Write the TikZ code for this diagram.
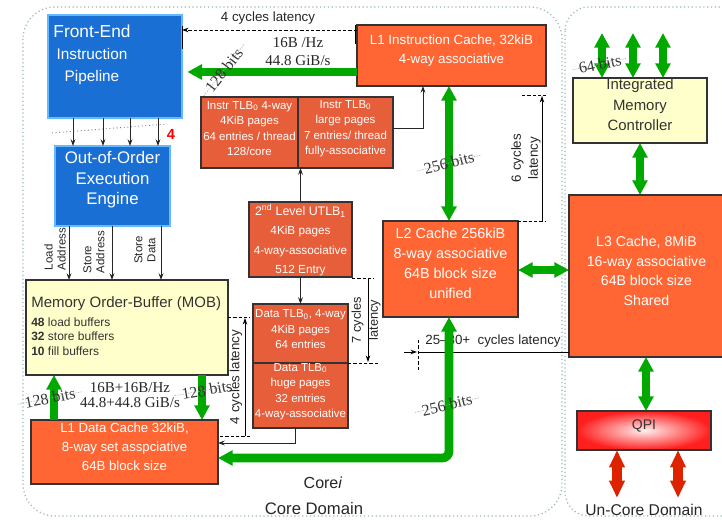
\documentclass[tikz,border=0pt]{standalone}
\usepackage{fontspec}
\setmainfont{Liberation Sans}
\newfontfamily\serifx{Liberation Serif}
\usetikzlibrary{arrows.meta,fit,calc}
\newcommand\fsz[2]{\fontsize{#1}{#2}\selectfont}
\definecolor{feblue}{HTML}{1A6FD4}
\definecolor{feborder}{HTML}{66B8FF}
\definecolor{cacheor}{HTML}{FF6633}
\definecolor{tlbor}{HTML}{E65E3A}
\definecolor{mobyel}{HTML}{FFFFCC}
\definecolor{grn}{HTML}{00A800}
\definecolor{redarr}{HTML}{DD2200}
\definecolor{domline}{HTML}{9BB8B8}
\definecolor{darkbd}{HTML}{333333}
\begin{document}
\begin{tikzpicture}[x=0.75pt,y=-0.75pt,
  pbox/.style={inner sep=0pt, outer sep=0pt, align=center, text=white},
  cache/.style={pbox, fill=cacheor, draw=darkbd, line width=1.1pt},
  tlb/.style={pbox, fill=tlbor, draw=darkbd, line width=1.1pt, font=\fsz{8.6}{11.6}},
  bluebox/.style={pbox, fill=feblue, draw=feborder, line width=0.8pt},
  yelbox/.style={pbox, fill=mobyel, draw=darkbd, line width=1.1pt, text=black!80},
  arr/.style={-{Stealth[length=5pt,width=3.6pt]}, line width=0.7pt, black!85},
  garr/.style={draw=grn, line width=6.5pt, {Triangle[width=11pt,length=11pt]}-{Triangle[width=11pt,length=11pt]}},
  garrone/.style={draw=grn, line width=6.5pt, -{Triangle[width=11pt,length=11pt]}},
  rarr/.style={draw=redarr, line width=7pt, {Triangle[width=11pt,length=13pt]}-{Triangle[width=11pt,length=13pt]}},
  dimline/.style={line width=0.6pt, black},
  dimdash/.style={line width=0.6pt, black, dash pattern=on 2.5pt off 1.5pt},
  dimarr/.style={line width=0.6pt, black, -{Stealth[length=5pt,width=3.4pt]}},
  bits/.style={font=\serifx\fsz{12}{13}, text=black!80, inner sep=0.5pt},
  bitsline/.style={gray!70, line width=0.4pt, dash pattern=on 1pt off 1pt},
  lbl/.style={text=black!85, inner sep=0pt},
]
\useasboundingbox (0,0) rectangle (722,520);
\fill[white] (0,0) rectangle (722,520);
\clip (0,0) rectangle (722,520);

% domains
\draw[domline, dotted, line width=0.9pt, rounded corners=24pt] (23,7) rectangle (562,516);
\draw[domline, dotted, line width=0.9pt, rounded corners=18pt] (565,7) rectangle (770,516);

% coordinates
\coordinate (fa1) at (73,0); \coordinate (fa2) at (103,0);
\coordinate (fa3) at (130,0); \coordinate (fa4) at (158,0);
\coordinate (ob1) at (69,0); \coordinate (ob2) at (112,0); \coordinate (ob3) at (161,0);
\coordinate (mg1) at (54,0); \coordinate (mg2) at (202,0);
\coordinate (gy72) at (0,72); \coordinate (dy30) at (0,30);
\coordinate (ix) at (423,0); \coordinate (iy) at (0,128);
\coordinate (gx449) at (449,0); \coordinate (gy458) at (0,458);
\coordinate (gy270) at (0,270);
\coordinate (gx640) at (640,0); \coordinate (gx646) at (646,0);
\coordinate (dk) at (295,443);
\coordinate (m1) at (602,33); \coordinate (m2) at (633,33); \coordinate (m3) at (663,33);
\coordinate (q1) at (617,498); \coordinate (q2) at (678,498);

% boxes
\node[bluebox, fit={(48,15) (182,118)}] (fe) {};
\node[text=white, align=center, inner sep=0pt, font=\fsz{11.5}{16.5}] (fetxt) at (92,55) {{\fsz{13}{16.5}Front-End}\\Instruction\\Pipeline};
\node[bluebox, fit={(55,146) (170,226)}, font=\fsz{12.6}{15.4}] (ooo) {Out-of-Order\\Execution\\Engine};
\node[yelbox, fit={(26,280) (228,375)}] (mob) {};
\node[anchor=west, align=left, inner sep=0pt, text=black!80, font=\fsz{9}{10.9}] (mobtxt) at (31,326)
  {{\fsz{11.25}{14}Memory Order-Buffer (MOB)}\\[3.3pt]\textbf{48} load buffers\\\textbf{32} store buffers\\\textbf{10} fill buffers};
\node[cache, fit={(31,420) (218,484)}, font=\fsz{9.9}{14.25}] (l1d) {L1 Data Cache 32kiB,\\8-way set asspciative\\64B block size};
\node[tlb, fit={(201,97) (298,168)}] (itlbA) {Instr TLB\textsubscript{0} 4-way\\4KiB pages\\64 entries / thread\\128/core};
\node[tlb, fit={(298,97) (393,168)}] (itlbB) {Instr TLB\textsubscript{0}\\large pages\\7 entries/ thread\\fully-associative};
\node[tlb, fit={(249,202) (352,277)}] (utlb) {};
\node[pbox, font=\fsz{8.8}{14.6}] (utlbtxt) at (300.5,240) {{\fsz{9.3}{14.6}2\textsuperscript{nd} Level UTLB\textsubscript{1}}\\4KiB pages\\4-way-associative\\512 Entry};
\node[tlb, fit={(253,304) (348,363)}] (dtlbA) {Data TLB\textsubscript{0}, 4-way\\4KiB pages\\64 entries};
\node[tlb, fit={(253,363) (348,428)}] (dtlbB) {Data TLB\textsubscript{0}\\huge pages\\32 entries\\4-way-associative};
\node[cache, fit={(357,25) (546,86)}, font=\fsz{10}{14.25}] (l1i) {L1 Instruction Cache, 32kiB\\4-way associative};
\node[cache, fit={(383,221) (518,317)}, font=\fsz{10.8}{15}] (l2) {L2 Cache 256kiB\\8-way associative\\64B block size\\unified};
\node[cache, fit={(569,195) (724,357)}, font=\fsz{10.6}{14.8}] (l3) {L3 Cache, 8MiB\\16-way associative\\64B block size\\Shared};
\node[yelbox, fit={(573,78) (707,143)}, font=\fsz{11.2}{15.4}] (imc) {Integrated\\Memory\\Controller};
\node[pbox, fit={(577,411) (711,450)}, draw=darkbd, line width=1.1pt, shading=radial, inner color=red!6!white, outer color=red!88!white, text=black!80, font=\fsz{10.5}{12}] (qpi) {QPI};

% thin connectors
\foreach \c in {fa1,fa2,fa3,fa4} \draw[arr] (fe.south -| \c) -- (ooo.north -| \c);
\draw[gray, dotted, line width=0.7pt] (52,133) -- (167,124);
\node[text=red, font=\bfseries\fsz{11}{12}, inner sep=0pt] (four) at (171,134) {4};
\foreach \c in {ob1,ob2,ob3} \draw[arr] (ooo.south -| \c) -- (mob.north -| \c);
\node[lbl, rotate=90, align=left, font=\fsz{8.6}{9.75}] (ladr) at (55,249) {Load\\Address};
\node[lbl, rotate=90, align=left, font=\fsz{8.6}{9.75}] (sadr) at (94,252) {Store\\Address};
\node[lbl, rotate=90, align=center, font=\fsz{8.6}{9.75}] (sdat) at (145,250) {Store\\Data};
\draw[arr] (itlbB.east |- iy) -| (l1i.south -| ix);
\draw[arr] (utlb.north) -- (utlb.north |- itlbA.south);
\draw[arr] (utlb.south) -- (utlb.south |- dtlbA.north);
\draw[arr] (dtlbB.south -| dk) -- (dk) -- (l1d.east |- dk);

% latency dimensions
\draw[dimdash, -{Stealth[length=5pt,width=3.4pt]}] (l1i.west |- dy30) -- (fe.east |- dy30);
\draw[dimline] (182,26) -- (182,49);
\draw[dimline] (355,25) -- (355,44);
\node[lbl, font=\fsz{10}{12}] (lat4a) at (268,18) {4 cycles latency};

\draw[dimdash] (228,317) -- (250,317);
\draw[dimdash] (220,436) -- (250,436);
\draw[dimarr] (245,436) -- (245,318);
\node[lbl, rotate=90, font=\fsz{10}{12}] (lat4b) at (236,377) {4 cycles latency};

\draw[dimdash] (352,278) -- (374,278);
\draw[dimdash] (348,363) -- (378,363);
\draw[dimarr] (368,278) -- (368,362);
\node[lbl, rotate=90, align=center, font=\fsz{9.6}{12.75}] (lat7) at (366,320) {7 cycles\\latency};

\draw[dimdash] (522,95) -- (546,95);
\draw[dimdash] (518,221) -- (546,221);
\draw[dimarr] (542,221) -- (542,96);
\node[lbl, rotate=90, align=center, font=\fsz{10}{12.75}] (lat6) at (526,158) {6 cycles\\latency};

\draw[dimarr] (404,352) -- (417,352);
\draw[dimline] (418,352) -- (569,352);
\draw[dimdash] (418,340) -- (418,372);
\node[lbl, font=\fsz{10}{12}] (lat25) at (493,341) {25--30+\ \ cycles latency};

% green buses
\draw[garrone] (l1d.north -| mg1) -- (mob.south -| mg1);
\draw[garrone] (mob.south -| mg2) -- (l1d.north -| mg2);
\draw[garrone, shorten >=4pt] (l1i.west |- gy72) -- (fe.east |- gy72);
\draw[garr, rounded corners=5pt] (l2.south -| gx449) |- (l1d.east |- gy458);
\draw[garr] (l1i.south -| gx449) -- (l2.north -| gx449);
\draw[garr] (l2.east |- gy270) -- (l3.west |- gy270);
\draw[garr] (imc.south -| gx640) -- (l3.north -| gx640);
\draw[garr] (l3.south -| gx646) -- (qpi.north -| gx646);
\foreach \c in {m1,m2,m3} \draw[garr] (\c) -- (imc.north -| \c);
\foreach \c in {q1,q2} \draw[rarr] (qpi.south -| \c) -- (\c);

% bandwidth labels
\node[lbl, align=center, font=\serifx\fsz{11.25}{13.5}] (bw1) at (298,52) {16B /Hz\\44.8 GiB/s};
\node[lbl, align=center, font=\serifx\fsz{11.25}{11.25}] (bw2) at (130,395) {16B+16B/Hz\\44.8+44.8 GiB/s};
\node[bits, rotate=52] (b1) at (224,70) {128 bits};
\node[bits, rotate=11] (b2) at (50,398) {128 bits};
\node[bits, rotate=10] (b3) at (207,390) {128 bits};
\node[bits, rotate=13] (b4) at (447,405) {256 bits};
\node[bits, rotate=14] (b5) at (449,163) {256 bits};
\node[bits, rotate=12] (b6) at (600,64) {64 bits};
\foreach \n in {b1,b2,b3,b4,b5,b6}
  \draw[bitsline] ($(\n.west)!-0.12!(\n.east)$) -- ($(\n.east)!-0.12!(\n.west)$);

% domain captions
\node[lbl, font=\fsz{12}{14}] (corei) at (323,483) {Core\textit{i}};
\node[lbl, font=\fsz{12.5}{14}] (cored) at (314,509) {Core Domain};
\node[lbl, font=\fsz{11.7}{14}] (uncored) at (644,510) {Un-Core Domain};
\end{tikzpicture}
\end{document}
